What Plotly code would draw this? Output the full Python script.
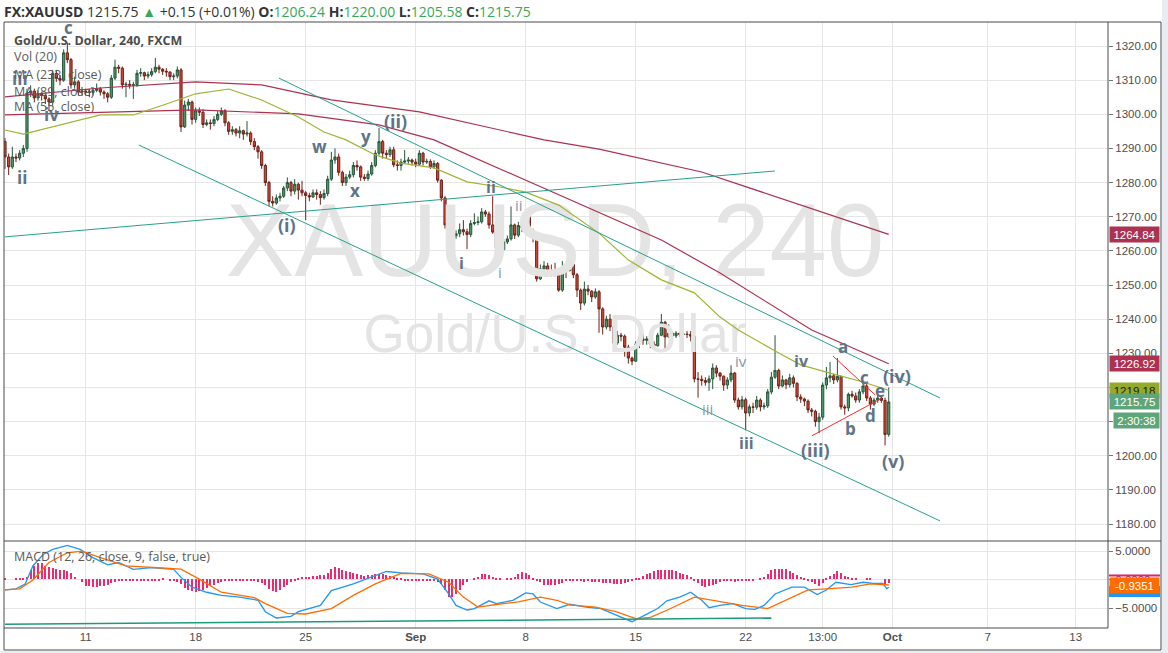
import plotly.graph_objects as go

# ---------------- DATA ----------------
first_open = 1292.0
closes = [
    1287.5, 1284.6, 1287.5, 1287.2, 1288.6, 1290.0, 1306.2, 1306.8, 1304.8, 1306.0,
    1305.5, 1304.5, 1303.6, 1312.0, 1310.5, 1310.0, 1318.0, 1316.0, 1308.6, 1309.5,
    1306.5, 1306.8, 1306.6, 1306.4, 1307.0, 1307.5, 1306.5, 1306.0, 1305.0, 1310.6,
    1313.8, 1313.5, 1308.6, 1308.8, 1308.5, 1308.7, 1312.0, 1312.2, 1311.2, 1311.6,
    1312.5, 1313.8, 1313.2, 1312.6, 1312.4, 1311.0, 1311.2, 1313.0, 1296.3, 1302.7,
    1303.6, 1298.5, 1301.0, 1300.6, 1297.0, 1297.5, 1297.3, 1298.5, 1300.0, 1301.0,
    1297.5, 1295.0, 1295.5, 1294.5, 1295.2, 1294.2, 1294.5, 1292.0, 1290.5, 1289.0,
    1285.0, 1280.0, 1274.5, 1274.0, 1275.5, 1276.0, 1278.4, 1280.0, 1277.5, 1279.5,
    1277.8, 1277.0, 1276.2, 1275.8, 1277.0, 1276.5, 1275.6, 1276.8, 1281.0, 1286.6,
    1287.5, 1283.0, 1280.0, 1281.6, 1282.3, 1285.0, 1284.6, 1281.6, 1281.2, 1282.5,
    1285.0, 1288.6, 1292.0, 1288.6, 1288.2, 1289.6, 1285.2, 1285.0, 1286.0, 1286.3,
    1286.6, 1286.0, 1285.4, 1288.6, 1286.0, 1286.2, 1284.6, 1285.6, 1280.7, 1275.5,
    1267.6, 1264.2, 1264.4, 1265.0, 1266.2, 1265.6, 1264.8, 1268.0, 1268.3, 1268.5,
    1271.4, 1270.8, 1267.6, 1265.5, 1260.8, 1260.4, 1262.6, 1263.5, 1267.6, 1264.6,
    1267.4, 1266.7, 1270.0, 1266.0, 1263.8, 1251.8, 1254.7, 1255.6, 1253.8, 1254.2,
    1253.8, 1248.5, 1254.7, 1254.2, 1256.0, 1253.0, 1248.5, 1244.7, 1248.8, 1248.2,
    1246.5, 1248.0, 1243.0, 1237.7, 1240.0, 1237.7, 1233.0, 1235.3, 1235.0, 1231.8,
    1228.6, 1227.7, 1232.7, 1234.2, 1233.8, 1234.2, 1232.7, 1232.2, 1235.3, 1239.1,
    1234.8, 1235.9, 1235.1, 1235.9, 1235.5, 1235.6, 1235.5, 1235.0, 1222.5, 1222.4,
    1222.0, 1221.5, 1222.5, 1225.7, 1224.2, 1223.3, 1220.7, 1222.2, 1224.2, 1216.3,
    1214.3, 1216.4, 1212.5, 1214.3, 1214.2, 1216.3, 1214.3, 1214.6, 1218.7, 1223.0,
    1225.0, 1220.4, 1222.2, 1220.8, 1222.8, 1221.2, 1217.2, 1216.6, 1216.0, 1213.4,
    1213.0, 1210.0, 1211.3, 1220.7, 1222.8, 1223.4, 1222.2, 1223.2, 1214.3, 1214.0,
    1218.0, 1217.5, 1216.3, 1218.7, 1220.4, 1216.9, 1215.1, 1216.3, 1216.9, 1216.2,
    1206.24, 1215.75,
]
highs = [
    1293.0, 1288.5, 1290.5, 1288.5, 1289.5, 1291.0, 1307.5, 1308.5, 1307.5, 1307.0,
    1306.5, 1306.0, 1305.0, 1313.0, 1313.0, 1311.5, 1319.0, 1321.0, 1316.5, 1311.0,
    1310.0, 1308.0, 1307.5, 1307.5, 1308.0, 1309.0, 1308.0, 1307.0, 1306.5, 1311.5,
    1316.0, 1314.5, 1314.0, 1309.5, 1310.0, 1309.5, 1313.0, 1313.5, 1312.5, 1312.5,
    1313.5, 1316.5, 1314.5, 1313.5, 1313.5, 1312.5, 1312.0, 1314.0, 1313.5, 1304.0,
    1304.5, 1304.0, 1302.0, 1302.0, 1301.5, 1298.5, 1298.5, 1299.5, 1301.0, 1302.0,
    1301.5, 1298.0, 1296.5, 1296.0, 1296.5, 1295.5, 1298.0, 1295.0, 1293.0, 1291.0,
    1289.5, 1285.5, 1280.5, 1276.0, 1276.5, 1277.0, 1279.0, 1281.5, 1280.5, 1281.0,
    1280.0, 1280.5, 1277.5, 1277.0, 1278.0, 1278.0, 1277.5, 1278.0, 1282.0, 1289.0,
    1290.0, 1288.5, 1283.5, 1282.5, 1283.5, 1286.0, 1286.5, 1285.0, 1282.5, 1283.5,
    1286.0, 1289.5, 1296.0, 1292.5, 1289.5, 1290.5, 1290.5, 1286.5, 1287.0, 1289.5,
    1287.5, 1287.0, 1287.0, 1289.5, 1289.0, 1287.0, 1286.8, 1286.5, 1286.0, 1281.0,
    1276.0, 1268.5, 1265.5, 1266.0, 1268.0, 1269.0, 1266.5, 1269.0, 1271.0, 1270.0,
    1272.5, 1272.0, 1271.5, 1276.0, 1266.0, 1261.5, 1263.5, 1264.5, 1273.0, 1268.0,
    1268.5, 1268.0, 1271.0, 1270.5, 1266.5, 1264.5, 1256.0, 1257.0, 1256.5, 1256.0,
    1256.5, 1254.5, 1257.0, 1255.5, 1257.5, 1256.5, 1253.5, 1249.0, 1251.0, 1250.0,
    1248.5, 1249.0, 1248.5, 1243.5, 1241.0, 1241.5, 1238.0, 1236.5, 1236.0, 1235.5,
    1232.5, 1229.0, 1233.5, 1235.0, 1235.5, 1235.0, 1234.8, 1233.5, 1236.0, 1241.5,
    1239.5, 1238.5, 1236.5, 1236.5, 1236.0, 1236.5, 1236.5, 1236.5, 1236.8, 1224.5,
    1223.5, 1223.0, 1223.5, 1227.0, 1226.5, 1224.5, 1223.5, 1223.0, 1226.5, 1224.5,
    1217.0, 1217.5, 1217.0, 1215.0, 1215.5, 1217.5, 1216.8, 1215.5, 1219.5, 1224.5,
    1235.3, 1225.5, 1223.5, 1222.5, 1224.0, 1223.5, 1221.5, 1218.0, 1217.0, 1216.5,
    1214.0, 1213.5, 1212.5, 1221.5, 1226.0, 1227.5, 1224.0, 1228.6, 1223.5, 1215.0,
    1218.5, 1219.0, 1218.5, 1219.5, 1221.8, 1221.0, 1217.5, 1217.0, 1217.8, 1217.5,
    1217.0, 1220.0,
]
lows = [
    1284.0, 1282.2, 1284.0, 1286.0, 1286.5, 1287.5, 1289.0, 1305.0, 1303.5, 1304.0,
    1304.0, 1303.0, 1301.0, 1302.5, 1309.5, 1308.5, 1309.5, 1315.0, 1307.5, 1307.5,
    1305.5, 1305.5, 1305.5, 1305.0, 1305.5, 1306.5, 1305.5, 1304.5, 1303.5, 1304.5,
    1310.0, 1312.0, 1307.5, 1305.0, 1307.5, 1304.5, 1308.0, 1311.0, 1310.0, 1310.5,
    1311.0, 1312.0, 1312.0, 1311.5, 1311.0, 1310.0, 1310.0, 1310.5, 1294.8, 1296.0,
    1301.0, 1297.0, 1297.5, 1299.5, 1296.0, 1296.5, 1295.5, 1296.5, 1298.0, 1299.5,
    1296.5, 1294.0, 1294.0, 1293.5, 1293.0, 1292.5, 1293.5, 1291.0, 1289.5, 1287.0,
    1284.0, 1279.0, 1273.0, 1273.0, 1273.5, 1274.5, 1275.5, 1277.5, 1276.0, 1276.5,
    1275.0, 1276.0, 1269.0, 1274.5, 1275.5, 1275.0, 1273.5, 1275.0, 1276.0, 1280.5,
    1285.5, 1282.0, 1279.0, 1279.0, 1281.0, 1281.5, 1283.5, 1280.5, 1280.5, 1280.5,
    1282.0, 1284.5, 1288.0, 1287.0, 1287.0, 1287.5, 1284.5, 1283.5, 1283.5, 1285.5,
    1285.5, 1285.0, 1284.5, 1285.0, 1285.0, 1285.5, 1284.0, 1284.0, 1280.0, 1274.5,
    1266.5, 1262.0, 1263.5, 1263.5, 1264.0, 1264.5, 1260.5, 1264.0, 1267.5, 1267.5,
    1268.0, 1270.0, 1266.5, 1265.0, 1259.5, 1256.7, 1260.0, 1262.0, 1263.0, 1263.5,
    1264.0, 1265.5, 1266.0, 1265.0, 1262.5, 1251.0, 1251.5, 1254.0, 1253.0, 1252.5,
    1252.5, 1248.0, 1248.0, 1252.0, 1254.0, 1252.0, 1246.5, 1242.7, 1244.0, 1247.0,
    1245.0, 1246.0, 1236.0, 1235.5, 1237.0, 1236.5, 1231.0, 1232.5, 1233.5, 1229.0,
    1227.0, 1226.5, 1227.5, 1231.5, 1232.5, 1232.5, 1231.5, 1231.0, 1232.0, 1235.0,
    1231.0, 1234.5, 1234.0, 1234.5, 1234.8, 1235.0, 1234.5, 1233.5, 1221.5, 1217.0,
    1220.5, 1220.5, 1219.0, 1219.5, 1223.0, 1222.0, 1219.0, 1219.5, 1221.5, 1215.5,
    1213.5, 1213.5, 1207.5, 1211.5, 1212.5, 1213.5, 1213.0, 1213.5, 1214.0, 1218.0,
    1222.5, 1219.5, 1220.0, 1219.5, 1220.0, 1220.0, 1216.0, 1215.5, 1214.5, 1212.5,
    1211.5, 1208.5, 1206.6, 1210.5, 1219.5, 1221.5, 1221.0, 1221.5, 1213.5, 1212.0,
    1213.0, 1217.0, 1215.5, 1215.5, 1218.0, 1216.0, 1213.5, 1214.5, 1215.5, 1215.5,
    1203.0, 1205.58,
]
bars = list(range(len(closes)))
opens = [first_open] + closes[:-1]  # each 4h bar opens at the prior close

ma233_bars = [0, 26, 52, 70, 89, 113, 147, 162, 190, 217, 241]
ma233_vals = [1305.1, 1307.7, 1309.5, 1308.6, 1304.2, 1300.7, 1292.5, 1289.8, 1283.1, 1273.4, 1264.84]
ma89_bars = [0, 52, 80, 102, 117, 162, 179, 195, 220, 241]
ma89_vals = [1299.8, 1301.3, 1300.1, 1296.9, 1292.5, 1271.4, 1263.2, 1253.5, 1236.8, 1226.92]
ma55_bars = [0, 5, 26, 35, 44, 52, 61, 70, 80, 87, 93, 101, 108, 117, 126, 135, 142, 151,
             162, 170, 179, 188, 195, 200, 211, 217, 225, 234, 241]
ma55_vals = [1295.4, 1294.2, 1299.8, 1299.8, 1303.0, 1306.0, 1307.4, 1304.2, 1299.2, 1294.8,
             1292.5, 1288.1, 1285.7, 1284.3, 1280.2, 1278.7, 1277.2, 1273.4, 1265.2, 1257.3,
             1251.5, 1247.7, 1240.6, 1236.8, 1230.1, 1226.6, 1224.2, 1221.6, 1219.18]

macd_bars = [0, 3, 5.5, 7.6, 10.4, 13, 17, 20.5, 24, 28, 31, 35, 40, 46, 48, 51, 55, 59, 64,
             69, 71, 74, 78, 80, 86, 89, 95, 100, 104, 108, 114, 118, 121, 123, 126, 128, 132,
             134, 138.5, 142, 144, 146, 150.5, 154, 158.5, 162.5, 166.6, 171, 174.5, 178,
             180.5, 184, 187, 190, 192, 195, 198.5, 202, 204.5, 207, 210, 214.6, 218, 221.5,
             224, 226.6, 230.7, 234, 236.7, 239.4, 240.5, 241]
macd_vals = [-1.78, -1.6, -0.75, 2.4, 4.4, 5.3, 6.0, 5.3, 3.85, 2.6, 3.0, 1.8, 2.1, 1.8, 0.4,
             -1.3, -2.2, -2.75, -3.05, -3.6, -5.6, -6.7, -6.4, -5.6, -4.5, -1.9, -0.75, 0.4,
             1.43, 1.2, 1.0, 0.1, -2.5, -4.5, -5.3, -5.05, -3.7, -4.2, -3.6, -2.3, -2.5, -3.9,
             -5.05, -4.3, -4.8, -5.05, -6.2, -7.35, -6.2, -5.05, -3.7, -3.05, -2.2, -3.6, -4.9,
             -4.5, -4.2, -5.05, -5.2, -4.5, -2.5, -1.3, -1.3, -2.6, -1.8, -0.45, -0.85, -0.45,
             -0.65, -0.65, -1.6, -1.3]
signal_bars = [0, 4, 7.6, 12, 17, 21, 26, 33, 44, 48, 53, 59, 68, 71, 77, 82, 89, 95, 101,
               108, 115.6, 121, 125, 129, 134.5, 140, 146, 150.5, 154, 161, 166.6, 172, 176,
               180.5, 188, 193, 201, 208, 213, 219, 224, 231, 236, 241]
signal_vals = [-1.78, -1.6, -0.05, 3.0, 4.7, 5.0, 3.85, 2.4, 2.0, 1.85, 0.1, -2.2, -3.15, -4.2,
               -5.9, -6.0, -5.05, -2.75, -0.75, 1.1, 1.0, -0.45, -3.05, -4.8, -4.3, -3.9, -3.05,
               -3.6, -4.4, -4.8, -5.6, -6.8, -6.6, -5.35, -3.05, -3.6, -4.5, -5.05, -3.6, -1.8,
               -1.6, -1.3, -0.75, -0.9351]
hist_vals = [
    0.3, 0.0, 0.0, 0.1, 0.2, 0.3, 0.5, 1.6, 2.4, 2.8,
    2.8, 2.4, 2.2, 2.0, 1.8, 1.6, 1.6, 1.5, 1.2, 0.5,
    0.0, -0.5, -1.1, -1.2, -1.3, -1.3, -1.2, -1.1, -0.9, -0.6,
    -0.4, -0.3, -0.2, -0.2, -0.3, -0.2, -0.2, -0.3, -0.3, -0.2,
    -0.2, -0.2, -0.1, 0.1, 0.0, -0.1, -0.3, -0.4, -0.8, -1.5,
    -1.9, -2.1, -2.2, -2.1, -1.8, -1.5, -1.2, -0.9, -0.6, -0.4,
    -0.3, -0.2, -0.3, -0.3, -0.2, -0.2, -0.3, -0.2, -0.3, -0.4,
    -0.6, -1.0, -1.6, -2.1, -2.2, -1.9, -1.4, -0.9, -0.4, -0.1,
    0.3, 0.4, 0.5, 0.5, 0.6, 0.6, 0.7, 0.8, 1.2, 1.8,
    2.1, 2.0, 1.7, 1.5, 1.3, 1.1, 0.9, 0.7, 0.6, 0.7,
    0.8, 0.9, 1.0, 0.9, 0.7, 0.6, 0.4, 0.3, 0.1, -0.1,
    -0.2, -0.2, -0.2, -0.1, -0.2, -0.3, -0.3, -0.2, -0.4, -0.8,
    -1.8, -3.1, -3.0, -2.5, -1.8, -1.0, -0.4, 0.0, 0.2, 0.4,
    0.9, 0.9, 0.7, 0.5, 0.3, 0.1, 0.0, 0.2, 0.3, 0.5,
    0.9, 1.3, 1.2, 0.8, 0.2, -0.2, -0.4, -0.9, -1.0, -1.0,
    -0.9, -0.8, -0.6, -0.3, -0.2, -0.3, -0.2, -0.3, -0.4, -0.3,
    -0.4, -0.5, -0.5, -0.6, -0.6, -0.7, -0.8, -0.8, -0.8, -0.7,
    -0.5, -0.2, 0.1, 0.3, 0.6, 0.9, 1.2, 1.4, 1.6, 1.7,
    1.7, 1.7, 1.6, 1.4, 1.2, 1.0, 0.7, 0.4, -0.3, -0.7,
    -1.1, -1.3, -1.2, -1.0, -0.8, -0.5, -0.3, -0.2, -0.3, -0.4,
    -0.3, -0.2, -0.3, -0.2, -0.1, 0.0, 0.2, 0.5, 1.0, 1.6,
    1.85, 1.9, 1.8, 1.8, 1.5, 1.2, 0.8, 0.5, 0.2, -0.2,
    -0.5, -0.8, -1.1, -0.6, 0.1, 0.6, 1.0, 1.5, 1.1, 0.6,
    0.4, 0.2, 0.1, 0.0, 0.0, 0.2, 0.2, 0.0, 0.0, 0.0,
    -0.8, -0.6,
]

tick_bars = [22, 52, 82, 112, 142, 172, 202, 223, 242, 268, 292]
tick_labels = ['11', '18', '25', '<b>Sep</b>', '8', '15', '22', '13:00', '<b>Oct</b>', '7', '13']
price_ticks = [1180, 1190, 1200, 1210, 1220, 1230, 1240, 1250, 1260, 1270, 1280, 1290, 1300, 1310, 1320]
macd_ticks = [-5, 0, 5]

# drawings: (bar0, price0, bar1, price1)
teal_lines = [
    (74.7, 1310.6, 255.0, 1216.9),   # channel top
    (36.5, 1291.0, 255.0, 1180.9),   # channel bottom
    (0.0, 1264.1, 210.0, 1283.4),    # rising line
]
red_lines = [
    (225.8, 1229.2, 237.3, 1217.8),
    (220.0, 1205.8, 239.2, 1216.9),
]
macd_trend = (0.0, -7.8, 209.0, -6.7)

# wave labels: text, bar, price, size, bold
wave_labels = [
    ('c', 17.2, 1325.3, 17, True), ('iii', 4.1, 1310.6, 17, True), ('iv', 12.8, 1299.8, 17, True),
    ('ii', 4.6, 1281.6, 17, True), ('(i)', 76.9, 1267.6, 18, True), ('w', 85.9, 1290.7, 17, True),
    ('x', 95.4, 1277.8, 17, True), ('y', 98.4, 1293.6, 17, True), ('(ii)', 106.6, 1298.0, 18, True),
    ('ii', 132.5, 1278.7, 16, True), ('ii', 140.2, 1273.4, 15, False), ('i', 124.6, 1256.4, 16, True),
    ('i', 135.0, 1253.8, 15, False), ('iv', 200.7, 1227.7, 15, False), ('iv', 217.3, 1227.7, 16, True),
    ('iii', 191.7, 1213.7, 15, False), ('iii', 202.3, 1203.7, 16, True), ('(iii)', 220.9, 1201.7, 18, True),
    ('a', 228.5, 1232.1, 17, True), ('b', 230.7, 1208.1, 17, True), ('c', 234.3, 1223.0, 17, True),
    ('d', 235.9, 1211.9, 17, True), ('e', 238.6, 1219.2, 17, True), ('(iv)', 243.3, 1223.3, 18, True),
    ('(v)', 242.2, 1198.4, 18, True),
]

last_labels = [  # price, text, bg, fg
    (1264.84, '1264.84', '#ad3150', 'white'),
    (1226.92, '1226.92', '#ad3150', 'white'),
    (1219.18, '1219.18', '#94aa2c', '#1a1a1a'),
    (1215.75, '1215.75', '#5fa57a', 'white'),
]

# ---------------- LAYOUT HELPERS ----------------
L, R, T, B = 4, 1108, 22, 628
def pxx(px):
    return (px - L) / (R - L)
def pxy(py):
    return (B - py) / (B - T)

MAIN_RANGE = [1175.02, 1327.03]
MACD_RANGE = [-8.45, 6.55]
split = pxy(541)

fig = go.Figure()

# watermark (under everything)
fig.add_trace(go.Scatter(x=[150], y=[1260.2], mode='text', text=['XAUUSD, 240'],
                         textfont=dict(size=103, color='#e4e4e4', family='Liberation Sans'),
                         hoverinfo='skip', xaxis='x', yaxis='y'))
fig.add_trace(go.Scatter(x=[150], y=[1234.3], mode='text', text=['Gold/U.S. Dollar'],
                         textfont=dict(size=53, color='#e4e4e4', family='Liberation Sans'),
                         hoverinfo='skip', xaxis='x', yaxis='y'))

# moving averages
fig.add_trace(go.Scatter(x=ma233_bars, y=ma233_vals, mode='lines', line=dict(color='#ad3150', width=1.2),
                         hoverinfo='skip', xaxis='x', yaxis='y'))
fig.add_trace(go.Scatter(x=ma89_bars, y=ma89_vals, mode='lines', line=dict(color='#ad3150', width=1.2),
                         hoverinfo='skip', xaxis='x', yaxis='y'))
fig.add_trace(go.Scatter(x=ma55_bars, y=ma55_vals, mode='lines', line=dict(color='#9fb434', width=1.2),
                         hoverinfo='skip', xaxis='x', yaxis='y'))

# candles
fig.add_trace(go.Candlestick(
    x=bars, open=opens, high=highs, low=lows, close=closes,
    increasing=dict(line=dict(color='#24563a', width=1), fillcolor='#4f9c68'),
    decreasing=dict(line=dict(color='#6f2117', width=1), fillcolor='#d6473a'),
    whiskerwidth=0, hoverinfo='skip', xaxis='x', yaxis='y'))

# MACD
fig.add_trace(go.Bar(x=bars, y=hist_vals, width=0.27, marker=dict(color='#f0286f', line=dict(width=0)),
                     hoverinfo='skip', xaxis='x', yaxis='y2'))
fig.add_trace(go.Scatter(x=macd_bars, y=macd_vals, mode='lines', line=dict(color='#2196f3', width=1.3),
                         hoverinfo='skip', xaxis='x', yaxis='y2'))
fig.add_trace(go.Scatter(x=signal_bars, y=signal_vals, mode='lines', line=dict(color='#ff6d00', width=1.3),
                         hoverinfo='skip', xaxis='x', yaxis='y2'))

shapes = []
for b0, p0, b1, p1 in teal_lines:
    shapes.append(dict(type='line', xref='x', yref='y', x0=b0, y0=p0, x1=b1, y1=p1,
                       line=dict(color='#27a08c', width=1)))
for b0, p0, b1, p1 in red_lines:
    shapes.append(dict(type='line', xref='x', yref='y', x0=b0, y0=p0, x1=b1, y1=p1,
                       line=dict(color='#ff2a2a', width=1)))
shapes.append(dict(type='line', xref='x', yref='y2', x0=macd_trend[0], y0=macd_trend[1],
                   x1=macd_trend[2], y1=macd_trend[3], line=dict(color='#1f9a7c', width=1.5)))

# frame
frame = '#4a4a4a'
shapes += [
    dict(type='rect', xref='paper', yref='paper', x0=pxx(1162), x1=pxx(1169), y0=pxy(654), y1=pxy(-1),
         line=dict(width=0), fillcolor='#e9edf2', layer='below'),
    dict(type='rect', xref='paper', yref='paper', x0=pxx(-1), x1=pxx(1169), y0=pxy(654), y1=pxy(651),
         line=dict(width=0), fillcolor='#e9edf2', layer='below'),
    dict(type='rect', xref='paper', yref='paper', x0=pxx(4), x1=pxx(1161), y0=pxy(650), y1=pxy(22),
         line=dict(color=frame, width=1)),
    dict(type='line', xref='paper', yref='paper', x0=pxx(1108), x1=pxx(1108), y0=pxy(628), y1=pxy(22),
         line=dict(color=frame, width=1)),
    dict(type='line', xref='paper', yref='paper', x0=pxx(4), x1=pxx(1161), y0=pxy(541), y1=pxy(541),
         line=dict(color=frame, width=1)),
    dict(type='line', xref='paper', yref='paper', x0=pxx(4), x1=pxx(1108), y0=pxy(628), y1=pxy(628),
         line=dict(color=frame, width=1)),
    # MACD last-value markers
    dict(type='rect', xref='paper', yref='paper', x0=pxx(1109), x1=pxx(1160), y0=pxy(597), y1=pxy(586),
         line=dict(width=0), fillcolor='#2196f3'),
    dict(type='rect', xref='paper', yref='paper', x0=pxx(1109), x1=pxx(1160), y0=pxy(576.5), y1=pxy(574.5),
         line=dict(width=0), fillcolor='#e91e63'),
]

ann = []
green = '#3aa757'
header = ("<b>FX:XAUUSD</b> 1215.75 <span style='color:%s'>▲</span> +0.15 (+0.01%%) "
          "<b>O:</b><span style='color:%s'>1206.24</span> <b>H:</b><span style='color:%s'>1220.00</span> "
          "<b>L:</b><span style='color:%s'>1205.58</span> <b>C:</b><span style='color:%s'>1215.75</span>"
          % (green, green, green, green, green))
ann.append(dict(xref='paper', yref='paper', x=pxx(2), y=pxy(11), xanchor='left', yanchor='middle',
                text=header, showarrow=False, font=dict(family='Open Sans', size=14, color='#333')))

for text, b, p, size, bold in wave_labels:
    ann.append(dict(xref='x', yref='y', x=b, y=p, text=('<b>%s</b>' % text) if bold else text,
                    showarrow=False, xanchor='center', yanchor='middle',
                    font=dict(family='Open Sans', size=size, color='#5f7488' if bold else '#8797aa')))

legend_rows = [
    ('<b>Gold/U.S. Dollar, 240, FXCM</b>', 40, '#4d4d4d'),
    ('Vol (20)', 57, '#5a5a5a'),
    ('MA (233, close)', 74, '#5a5a5a'),
    ('MA (89, close)', 91, '#5a5a5a'),
    ('MA (55, close)', 107, '#5a5a5a'),
    ('MACD (12, 26, close, 9, false, true)', 556, '#5a5a5a'),
]
for text, py, col in legend_rows:
    ann.append(dict(xref='paper', yref='paper', x=pxx(12), y=pxy(py), xanchor='left', yanchor='middle',
                    text=text, showarrow=False, font=dict(family='Open Sans', size=12.5, color=col)))

for price, text, bg, fg in last_labels:
    ann.append(dict(xref='paper', yref='y', x=1, y=price, xanchor='left', yanchor='middle', xshift=1,
                    text=text, showarrow=False, bgcolor=bg, width=47, height=13, borderpad=1,
                    font=dict(family='Liberation Sans', size=11.5, color=fg)))
ann.append(dict(xref='paper', yref='paper', x=pxx(1113), y=pxy(420), xanchor='left', yanchor='middle',
                text='2:30:38', showarrow=False, bgcolor='#5fa57a', width=43, height=13, borderpad=1,
                font=dict(family='Liberation Sans', size=11.5, color='white')))
ann.append(dict(xref='paper', yref='y2', x=1, y=-0.9351, xanchor='left', yanchor='middle', xshift=1,
                text='-0.9351', showarrow=False, bgcolor='#ff6d00', width=47, height=13, borderpad=1,
                font=dict(family='Liberation Sans', size=11.5, color='white')))

axis_font = dict(family='Liberation Sans', size=11.5, color='#4d4d4d')
fig.update_layout(
    width=1168, height=653, margin=dict(l=L, r=1168 - R, t=T, b=653 - B),
    paper_bgcolor='white', plot_bgcolor='white', showlegend=False, bargap=0, boxgap=0.15,
    xaxis=dict(domain=[0, 1], range=[-0.27, 300.8], anchor='y2', tickmode='array',
               tickvals=tick_bars, ticktext=tick_labels, showgrid=True, gridcolor='#e6e6e6',
               zeroline=False, showline=False, ticks='', tickfont=axis_font,
               rangeslider=dict(visible=False), fixedrange=True),
    yaxis=dict(domain=[split, 1], range=MAIN_RANGE, side='right', anchor='x', tickmode='array',
               tickvals=price_ticks, tickformat='.2f', ticks='outside', ticklen=4, tickcolor='#777',
               showgrid=True, gridcolor='#e6e6e6', zeroline=False, showline=False, tickfont=axis_font,
               fixedrange=True),
    yaxis2=dict(domain=[0, split - 0.002], range=MACD_RANGE, side='right', anchor='x', tickmode='array',
                tickvals=macd_ticks, tickformat='.4f', ticks='outside', ticklen=4, tickcolor='#777',
                showgrid=True, gridcolor='#e6e6e6', zeroline=False, showline=False, tickfont=axis_font,
                fixedrange=True),
    shapes=shapes, annotations=ann,
)

fig.write_html('out.html', config={'displayModeBar': False},
               post_script="document.body.style.margin='0';document.body.style.overflow='hidden';")
